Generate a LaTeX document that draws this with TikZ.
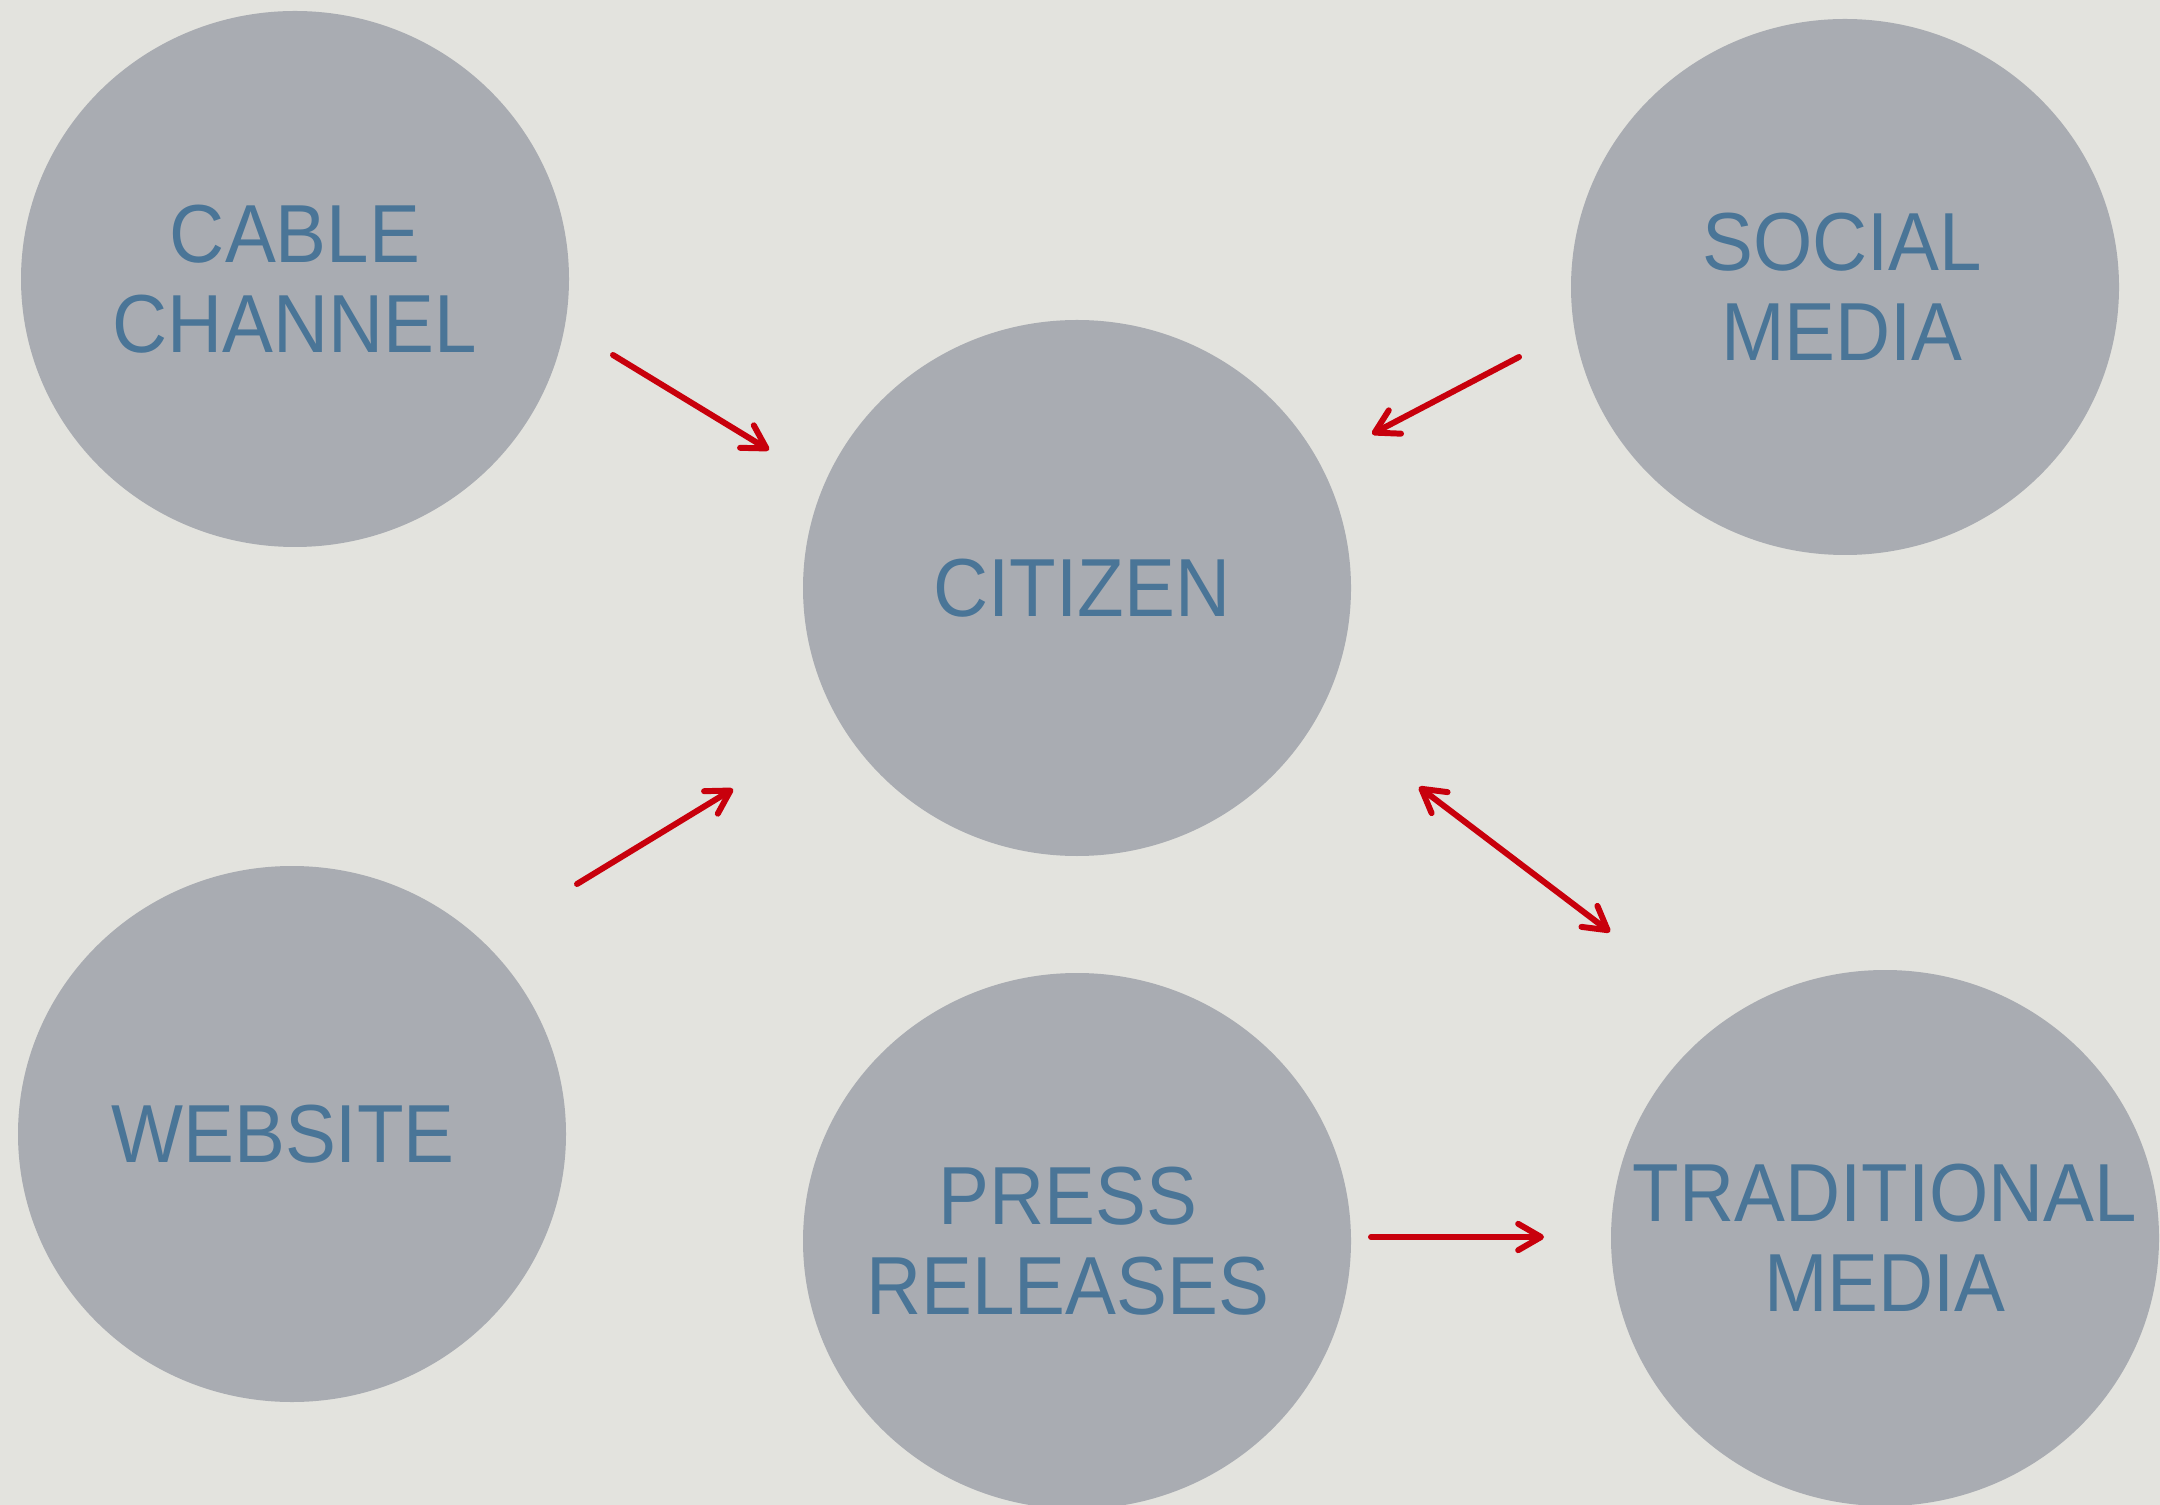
\documentclass[tikz,border=0pt]{standalone}
\usepackage{fontspec}
\setmainfont{Liberation Sans}
\usepackage{xcolor}
\usepackage{tikz}
\usetikzlibrary{arrows.meta,shapes.geometric,positioning}

\definecolor{paper}{RGB}{227,227,222}
\definecolor{disc}{RGB}{169,172,178}
\definecolor{ink}{RGB}{74,117,151}
\definecolor{arrowred}{RGB}{200,0,12}

\begin{document}
\begin{tikzpicture}[>={Straight Barb[length=6.5pt,width=7.5pt,round]},
bubble/.style={ellipse,fill=disc,minimum width=5.48cm,minimum height=5.36cm,inner sep=0pt},
caption/.style={align=center,text=ink,inner sep=0pt,font=\fontsize{21.7}{23.6}\selectfont,yscale=1.08,transform shape},
link/.style={draw=arrowred,line width=1.7pt,line cap=round,->}]
\useasboundingbox (0,0) rectangle (21.6,-15.05);
\fill[paper] (0,0) rectangle (21.6,-15.05);
\node[bubble] (cable) at (2.95,-2.79) {};
\node[bubble] (social) at (18.45,-2.87) {};
\node[bubble] (citizen) at (10.77,-5.88) {};
\node[bubble] (website) at (2.92,-11.34) {};
\node[bubble] (press) at (10.77,-12.41) {};
\node[bubble] (trad) at (18.85,-12.38) {};
\node[caption] (cabletxt) at (cable) {CABLE\\CHANNEL};
\node[caption] (socialtxt) at ([xshift=-0.03cm]social.center) {SOCIAL\\MEDIA};
\node[caption] (citizentxt) at ([xshift=0.05cm]citizen.center) {CITIZEN};
\node[caption] (websitetxt) at ([xshift=-0.09cm]website.center) {WEBSITE};
\node[caption] (presstxt) at ([xshift=-0.09cm]press.center) {PRESS\\RELEASES};
\node[caption] (tradtxt) at (trad) {TRADITIONAL\\MEDIA};
\draw[link] ([shift={(3.18,-0.76)}]cable.center) -- ([shift={(-3.08,1.38)}]citizen.center);
\draw[link] ([shift={(-3.26,-0.70)}]social.center) -- ([shift={(2.95,1.54)}]citizen.center);
\draw[link] ([shift={(2.85,2.50)}]website.center) -- ([shift={(-3.44,-2.01)}]citizen.center);
\draw[link,<->] ([shift={(3.42,-1.99)}]citizen.center) -- ([shift={(-2.75,3.06)}]trad.center);
\draw[link] ([shift={(2.94,0.04)}]press.center) -- ([shift={(-3.41,0.01)}]trad.center);
\end{tikzpicture}
\end{document}
